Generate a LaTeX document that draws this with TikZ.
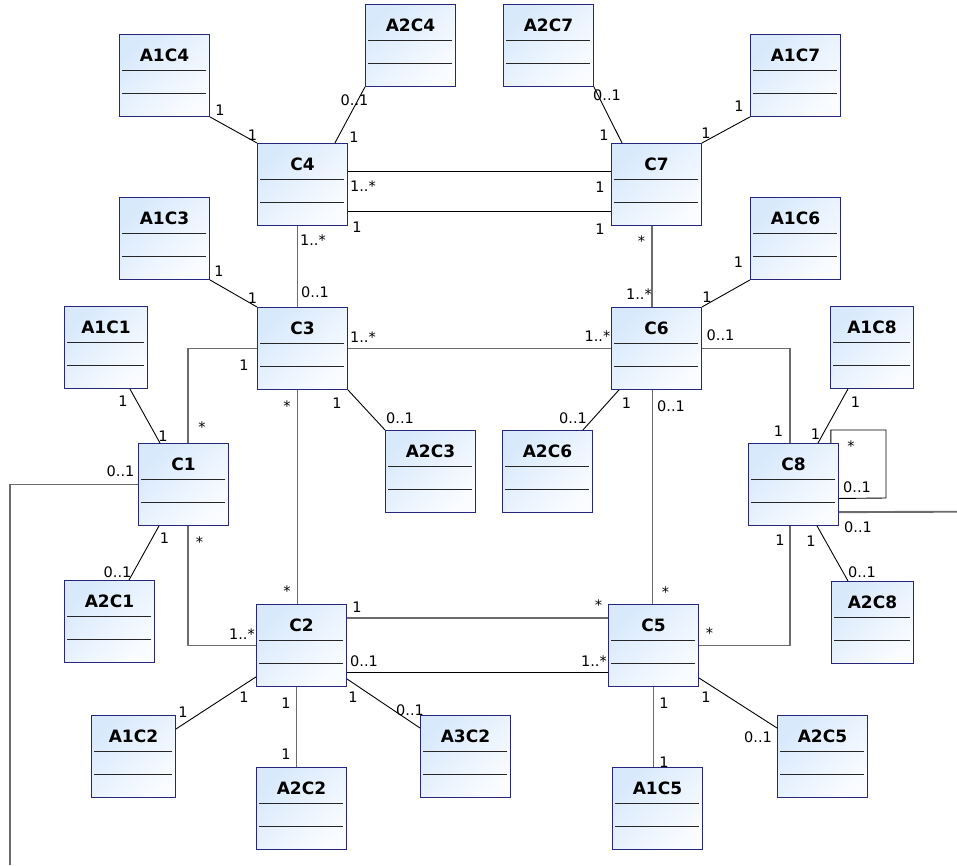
\documentclass[tikz,border=0pt]{standalone}
\usepackage{fontspec}
\newfontfamily\umlfont{DejaVu Sans}
\usetikzlibrary{calc}
\definecolor{classedge}{RGB}{38,38,125}
\definecolor{classtop}{RGB}{216,233,252}
\definecolor{classbot}{RGB}{250,252,255}
\definecolor{routegray}{RGB}{108,108,108}
\tikzset{
	umlclass/.style={draw=classedge, line width=0.9pt, anchor=north west,
		minimum width=90pt, minimum height=82pt, inner xsep=0pt, inner ysep=3.3pt,
		text height=23.3pt, text depth=52.1pt,
		font=\umlfont\bfseries\fontsize{17}{20}\selectfont,
		top color=classtop, bottom color=classbot, shading angle=45,
		path picture={
			\foreach \sep in {35.5,59}
				\draw[black!85, line width=0.8pt] ([xshift=3pt,yshift=-\sep pt]path picture bounding box.north west) -- ([xshift=-3pt,yshift=-\sep pt]path picture bounding box.north east);
		}},
	assoc/.style={black, line width=0.9pt},
	route/.style={routegray, line width=1.9pt},
	mult/.style={anchor=base, inner sep=0pt, font=\umlfont\fontsize{14.5}{16}\selectfont}
}

\begin{document}
\begin{tikzpicture}[x=1pt, y=-1pt]
	%%%%% START %%%%%
	\useasboundingbox (0,0) rectangle (957,865);
	
	\node[umlclass] (a1c4) at (119,34) {A1C4};
	\node[umlclass] (a2c4) at (365,4) {A2C4};
	\node[umlclass] (a2c7) at (503,4) {A2C7};
	\node[umlclass] (a1c7) at (750,34) {A1C7};
	\node[umlclass] (c4) at (257,143) {C4};
	\node[umlclass] (c7) at (611,143) {C7};
	
	\node[umlclass] (a1c3) at (119,197) {A1C3};
	\node[umlclass] (a1c6) at (750,197) {A1C6};
	\node[umlclass] (c3) at (257,307) {C3};
	\node[umlclass] (c6) at (611,307) {C6};
	\node[umlclass, minimum width=83pt] (a1c1) at (64,306) {A1C1};
	\node[umlclass, minimum width=83pt] (a1c8) at (830,306) {A1C8};
	\node[umlclass] (a2c3) at (385,430) {A2C3};
	\node[umlclass] (a2c6) at (502,430) {A2C6};
	
	\node[umlclass] (c1) at (138,443) {C1};
	\node[umlclass] (c8) at (748,443) {C8};
	\node[umlclass] (a2c1) at (64,580) {A2C1};
	\node[umlclass, minimum width=82pt] (a2c8) at (831,581) {A2C8};
	
	\node[umlclass] (c2) at (256,604) {C2};
	\node[umlclass] (c5) at (608,604) {C5};
	\node[umlclass, minimum width=84pt] (a1c2) at (91,715) {A1C2};
	\node[umlclass] (a3c2) at (420,715) {A3C2};
	\node[umlclass] (a2c5) at (777,715) {A2C5};
	\node[umlclass] (a2c2) at (256,767) {A2C2};
	\node[umlclass] (a1c5) at (612,767) {A1C5};
	
	\coordinate (c1end) at (10,865);
	\coordinate (c8end) at (957,511.7);
	\coordinate (c8loop) at (886,498);
	
	% links between the C classes
	\draw[assoc] ([yshift=13.3pt]c4.east) -- ([yshift=13.3pt]c4.east -| c7.west);
	\draw[assoc] ([yshift=-27pt]c4.east) -- ([yshift=-27pt]c4.east -| c7.west);
	\draw[route] ([xshift=-5pt]c4.south) -- ([xshift=-5pt]c3.north);
	\draw[route] ([xshift=-4.5pt]c7.south) -- ([xshift=-4.5pt]c6.north);
	\draw[route] (c3.east) -- (c6.west);
	\draw[route] (c6.east) -| ([xshift=-3.5pt]c8.north);
	\draw[route] ([xshift=-5pt]c3.south) -- ([xshift=-5pt]c3.south |- c2.north);
	\draw[route] ([xshift=-4pt]c6.south) -- ([xshift=-4pt]c6.south |- c5.north);
	\draw[route] (c3.west) -| ([xshift=4.5pt]c1.north);
	\draw[route] ([xshift=4.5pt]c1.south) |- (c2.west);
	\draw[route] (c1.west) -| (c1end);
	\draw[route] ([yshift=-27.7pt]c8.east) -- (c8end);
	\draw[assoc] ([xshift=-8pt]c8.north east) -- ++(0,-13) -| (c8loop) -- ([yshift=-14pt]c8.east);
	\draw[route] ([xshift=-3.5pt]c8.south) |- (c5.east);
	\draw[route] ([yshift=27.3pt]c2.east) -- ([yshift=27.3pt]c2.east -| c5.west);
	\draw[assoc] ([yshift=-26.7pt]c2.east) -- ([yshift=-26.7pt]c2.east -| c5.west);
	
	% links to the A classes
	\draw[assoc] (a1c4.south east) -- (c4.north west);
	\draw[assoc] (a2c4.south west) -- ([xshift=-13pt]c4.north east);
	\draw[assoc] (a2c7.south east) -- ([xshift=11pt]c7.north west);
	\draw[assoc] (a1c7.south west) -- (c7.north east);
	\draw[assoc] (a1c3.south east) -- (c3.north west);
	\draw[assoc] (a1c6.south west) -- (c6.north east);
	\draw[assoc] (c3.south east) -- (a2c3.north west);
	\draw[assoc] ([xshift=8pt]c6.south west) -- ([xshift=-10pt]a2c6.north east);
	\draw[assoc] ([xshift=-18pt]a1c1.south east) -- ([xshift=22pt]c1.north west);
	\draw[assoc] ([xshift=21pt]c1.south west) -- ([xshift=65pt]a2c1.north west);
	\draw[assoc] ([xshift=18pt]a1c8.south west) -- ([xshift=70pt]c8.north west);
	\draw[assoc] ([xshift=69pt]c8.south west) -- ([xshift=17pt]a2c8.north west);
	\draw[assoc] ([yshift=10pt]c2.south west) -- ([yshift=-14pt]a1c2.north east);
	\draw[route] ([xshift=-5pt]c2.south) -- ([xshift=-5pt]c2.south |- a2c2.north);
	\draw[assoc] ([yshift=8pt]c2.south east) -- ([yshift=-13pt]a3c2.north west);
	\draw[route] (c5.south) -- (c5.south |- a1c5.north);
	\draw[assoc] ([yshift=9pt]c5.south east) -- ([yshift=-13pt]a2c5.north west);
	
	% multiplicities
	\node[mult] (lbl-a1c4-c4) at (220,115) {1};
	\node[mult] (lbl-c4-a1c4) at (252.5,140) {1};
	\node[mult] (lbl-a2c4-c4) at (354.5,105) {0..1};
	\node[mult] (lbl-c4-a2c4) at (354,142) {1};
	\node[mult] (lbl-a2c7-c7) at (607,100) {0..1};
	\node[mult] (lbl-c7-a2c7) at (604,140) {1};
	\node[mult] (lbl-a1c7-c7) at (739,111) {1};
	\node[mult] (lbl-c7-a1c7) at (706,138) {1};
	\node[mult] (lbl-c4-c7a) at (363,191) {1..*};
	\node[mult] (lbl-c7-c4a) at (600,192.5) {1};
	\node[mult] (lbl-c4-c7b) at (357,232.5) {1};
	\node[mult] (lbl-c7-c4b) at (600,234.5) {1};
	\node[mult] (lbl-c4-c3) at (313,245) {1..*};
	\node[mult] (lbl-c3-c4) at (315,297) {0..1};
	\node[mult] (lbl-c7-c6) at (641.5,246.5) {*};
	\node[mult] (lbl-c6-c7) at (639,299) {1..*};
	
	\node[mult] (lbl-a1c3-c3) at (219,276) {1};
	\node[mult] (lbl-c3-a1c3) at (252.5,303) {1};
	\node[mult] (lbl-a1c6-c6) at (738.5,267.5) {1};
	\node[mult] (lbl-c6-a1c6) at (707,302) {1};
	\node[mult] (lbl-c3-c6) at (363,342) {1..*};
	\node[mult] (lbl-c6-c3) at (597.5,341.5) {1..*};
	\node[mult] (lbl-c6-c8) at (720.5,340.5) {0..1};
	\node[mult] (lbl-c8-c6) at (778.5,436) {1};
	\node[mult] (lbl-c3-c1) at (244,370) {1};
	\node[mult] (lbl-c1-c3) at (202,432) {*};
	\node[mult] (lbl-a1c1-c1) at (123,406.5) {1};
	\node[mult] (lbl-c1-a1c1) at (163,441.5) {1};
	\node[mult] (lbl-c3-a2c3) at (337,408) {1};
	\node[mult] (lbl-a2c3-c3) at (400,423) {0..1};
	\node[mult] (lbl-c3-c2) at (287,411) {*};
	\node[mult] (lbl-c6-a2c6) at (626.5,408) {1};
	\node[mult] (lbl-a2c6-c6) at (573,423) {0..1};
	\node[mult] (lbl-c6-c5) at (671,411) {0..1};
	
	\node[mult] (lbl-a1c8-c8) at (855.5,407.5) {1};
	\node[mult] (lbl-c8-a1c8) at (815.5,439) {1};
	\node[mult] (lbl-c8-c8a) at (851,451.5) {*};
	\node[mult] (lbl-c8-c8b) at (857,492.5) {0..1};
	\node[mult] (lbl-c8-out) at (858,532.5) {0..1};
	\node[mult] (lbl-c8-c5) at (780,545) {1};
	\node[mult] (lbl-c8-a2c8) at (811,546.5) {1};
	\node[mult] (lbl-a2c8-c8) at (862,577) {0..1};
	\node[mult] (lbl-c1-out) at (120.5,476.5) {0..1};
	\node[mult] (lbl-c1-a2c1) at (164.5,543.5) {1};
	\node[mult] (lbl-c1-c2) at (199.5,547.5) {*};
	\node[mult] (lbl-a2c1-c1) at (117.5,577.5) {0..1};
	
	\node[mult] (lbl-c2-c3) at (287,596) {*};
	\node[mult] (lbl-c5-c6) at (665.5,597.5) {*};
	\node[mult] (lbl-c5-c8) at (709.5,638.5) {*};
	\node[mult] (lbl-c2-c1) at (242,639) {1..*};
	\node[mult] (lbl-c2-c5a) at (357,612) {1};
	\node[mult] (lbl-c5-c2a) at (598.5,610.5) {*};
	\node[mult] (lbl-c2-c5b) at (364,666) {0..1};
	\node[mult] (lbl-c5-c2b) at (594,666) {1..*};
	\node[mult] (lbl-c2-a1c2) at (244,702) {1};
	\node[mult] (lbl-a1c2-c2) at (183,717) {1};
	\node[mult] (lbl-c2-a2c2) at (286,708) {1};
	\node[mult] (lbl-a2c2-c2) at (286,759) {1};
	\node[mult] (lbl-c2-a3c2) at (353,702) {1};
	\node[mult] (lbl-a3c2-c2) at (410,715) {0..1};
	\node[mult] (lbl-c5-a1c5) at (664,708) {1};
	\node[mult] (lbl-a1c5-c5) at (664,767) {1};
	\node[mult] (lbl-c5-a2c5) at (706,702) {1};
	\node[mult] (lbl-a2c5-c5) at (758,742) {0..1};
	
	%%%%% END %%%%%
\end{tikzpicture}
\end{document}
